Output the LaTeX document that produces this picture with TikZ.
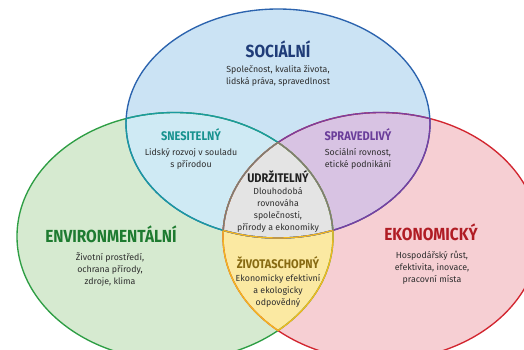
\documentclass[tikz,border=0pt]{standalone}
\usepackage{fontspec}
\setmainfont{Fira Sans}
\newfontfamily\titlefont{Fira Sans}[FakeStretch=0.88]
\definecolor{bfill}{HTML}{CBE3F4}
\definecolor{gfill}{HTML}{D6EAD0}
\definecolor{rfill}{HTML}{F6CFD3}
\definecolor{cfill}{HTML}{CFEAF4}
\definecolor{pfill}{HTML}{D8C3E3}
\definecolor{yfill}{HTML}{FBE9A2}
\definecolor{afill}{HTML}{E4E4E4}
\definecolor{bline}{HTML}{2B63AE}
\definecolor{gline}{HTML}{2E9E44}
\definecolor{rline}{HTML}{D22630}
\definecolor{cline}{HTML}{1B9AA0}
\definecolor{pline}{HTML}{7B3F9E}
\definecolor{yline}{HTML}{F2B81E}
\definecolor{aline}{HTML}{7A7A7A}
\definecolor{btxt}{HTML}{1F3C78}
\definecolor{gtxt}{HTML}{1E7B30}
\definecolor{rtxt}{HTML}{B01C24}
\definecolor{ctxt}{HTML}{17928F}
\definecolor{ptxt}{HTML}{6A3D9A}
\definecolor{ytxt}{HTML}{876A12}
\definecolor{atxt}{HTML}{222222}
\definecolor{bodytxt}{HTML}{2E2E2E}
\begin{document}
\begin{tikzpicture}[x=1pt,y=-1pt,
  ttl/.style={font=\titlefont\bfseries\fontsize{17.5}{20}\selectfont, inner sep=0pt},
  sub/.style={font=\titlefont\bfseries\fontsize{12.5}{14}\selectfont, inner sep=0pt},
  body/.style={font=\fontsize{8.8}{12}\selectfont, align=center, text=bodytxt, inner sep=0pt},
  edge/.style={line width=1.35pt}]
\useasboundingbox (0,0) rectangle (524,349);
\clip (0,0) rectangle (524,349);
\def\Bpath{(278,123.5) ellipse [x radius=152pt, y radius=114.5pt]}
\def\Gpath{(175,236.5) ellipse [x radius=158pt, y radius=124pt]}
\def\Rpath{(381,236.5) ellipse [x radius=158pt, y radius=124pt]}
% fills
\fill[white] (0,0) rectangle (524,349);
\fill[gfill] \Gpath;
\fill[rfill] \Rpath;
\fill[bfill] \Bpath;
\begin{scope}\clip \Bpath; \fill[cfill] \Gpath; \end{scope}
\begin{scope}\clip \Bpath; \fill[pfill] \Rpath; \end{scope}
\begin{scope}\clip \Gpath; \fill[yfill] \Rpath; \end{scope}
\begin{scope}\clip \Bpath; \clip \Gpath; \fill[afill] \Rpath; \end{scope}
% outlines
\draw[edge, gline] \Gpath;
\draw[edge, rline] \Rpath;
\draw[edge, bline] \Bpath;
\begin{scope}\clip \Bpath; \draw[edge, cline] \Gpath; \end{scope}
\begin{scope}\clip \Gpath; \draw[edge, cline] \Bpath; \end{scope}
\begin{scope}\clip \Bpath; \draw[edge, pline] \Rpath; \end{scope}
\begin{scope}\clip \Rpath; \draw[edge, pline] \Bpath; \end{scope}
\begin{scope}\clip \Gpath; \draw[edge, yline] \Rpath; \end{scope}
\begin{scope}\clip \Rpath; \draw[edge, yline] \Gpath; \end{scope}
\begin{scope}\clip \Gpath; \clip \Rpath; \draw[edge, yline] \Bpath; \end{scope}
\begin{scope}\clip \Bpath; \clip \Gpath; \draw[edge, aline] \Rpath; \end{scope}
\begin{scope}\clip \Bpath; \clip \Rpath; \draw[edge, aline] \Gpath; \end{scope}
% texts
\node[ttl, text=btxt] (soc) at (278,49) {SOCIÁLNÍ};
\node[body] (socb) at (278,76) {Společnost, kvalita života,\\lidská práva, spravedlnost};
\node[sub, text=ctxt] (sne) at (191,135) {SNESITELNÝ};
\node[body] (sneb) at (191,159) {Lidský rozvoj v souladu\\s přírodou};
\node[sub, text=ptxt] (spr) at (358,135) {SPRAVEDLIVÝ};
\node[body] (sprb) at (358,159) {Sociální rovnost,\\etické podnikání};
\node[sub, text=atxt] (udr) at (278,177) {UDRŽITELNÝ};
\node[body] (udrb) at (278,210) {Dlouhodobá\\rovnováha\\společnosti,\\přírody a ekonomiky};
\node[sub, text=ytxt] (ziv) at (278,263) {ŽIVOTASCHOPNÝ};
\node[body] (zivb) at (278,291) {Ekonomicky efektivní\\a ekologicky\\odpovědný};
\node[ttl, text=gtxt] (env) at (111,234) {ENVIRONMENTÁLNÍ};
\node[body] (envb) at (110,269) {Životní prostředí,\\ochrana přírody,\\zdroje, klima};
\node[ttl, text=rtxt] (eko) at (431,232) {EKONOMICKÝ};
\node[body] (ekob) at (432,268) {Hospodářský růst,\\efektivita, inovace,\\pracovní místa};
\end{tikzpicture}
\end{document}
